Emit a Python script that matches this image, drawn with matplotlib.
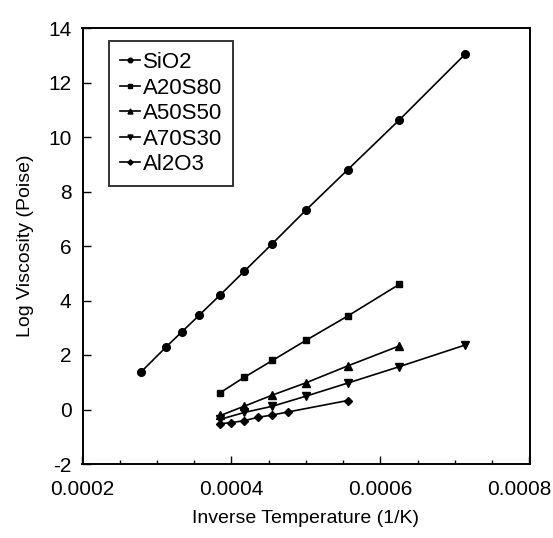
import matplotlib
matplotlib.use("Agg")
import matplotlib.pyplot as plt
import matplotlib.transforms as mtransforms
from matplotlib.ticker import MultipleLocator

plt.rcParams['font.family'] = ['Liberation Sans', 'DejaVu Sans']
plt.rcParams['axes.unicode_minus'] = False

# Data
x_sio2 = [0.000278, 0.000312, 0.000333, 0.000357, 0.000385, 0.000417,
          0.000455, 0.000500, 0.000556, 0.000625, 0.000714]
y_sio2 = [1.36, 2.29, 2.84, 3.47, 4.21, 5.07, 6.09, 7.32, 8.80, 10.62, 13.05]

x_a20s80 = [0.000385, 0.000417, 0.000455, 0.000500, 0.000556, 0.000625]
y_a20s80 = [0.62, 1.18, 1.80, 2.54, 3.43, 4.59]

x_a50s50 = [0.000385, 0.000417, 0.000455, 0.000500, 0.000556, 0.000625]
y_a50s50 = [-0.22, 0.12, 0.53, 0.98, 1.60, 2.33]

x_a70s30 = [0.000385, 0.000417, 0.000455, 0.000500, 0.000556, 0.000625, 0.000714]
y_a70s30 = [-0.36, -0.11, 0.12, 0.49, 0.97, 1.57, 2.37]

x_al2o3 = [0.000385, 0.000400, 0.000417, 0.000435, 0.000455, 0.000476, 0.000556]
y_al2o3 = [-0.52, -0.48, -0.41, -0.29, -0.20, -0.09, 0.33]

labels = ["SiO2", "A20S80", "A50S50", "A70S30", "Al2O3"]
xticks = [0.0002, 0.0004, 0.0006, 0.0008]
xtick_labels = ["0.0002", "0.0004", "0.0006", "0.0008"]
yticks = [-2, 0, 2, 4, 6, 8, 10, 12, 14]

fig = plt.figure(figsize=(5.53, 5.38), dpi=100)
ax = fig.add_axes([82.5 / 553, 1 - 464 / 538, (529.5 - 82.5) / 553, (464 - 28) / 538])

lw = 1.2
ax.plot(x_sio2, y_sio2, '-o', color='black', lw=lw, ms=5.5, label=labels[0])
ax.plot(x_a20s80, y_a20s80, '-s', color='black', lw=lw, ms=5, label=labels[1])
ax.plot(x_a50s50, y_a50s50, '-^', color='black', lw=lw, ms=6, label=labels[2])
ax.plot(x_a70s30, y_a70s30, '-v', color='black', lw=lw, ms=6, label=labels[3])
ax.plot(x_al2o3, y_al2o3, '-D', color='black', lw=lw, ms=4.5, label=labels[4])

ax.set_xlim(0.0002, 0.0008)
ax.set_ylim(-2, 14)
ax.set_xticks(xticks)
ax.set_xticklabels(xtick_labels)
ax.set_yticks(yticks)
ax.xaxis.set_minor_locator(MultipleLocator(0.00005))

ax.tick_params(axis='both', which='major', direction='in', length=6, width=1,
               labelsize=15, top=False, right=False)
ax.tick_params(axis='x', which='major', pad=11.5)
ax.tick_params(axis='y', which='major', pad=8)
ax.tick_params(axis='x', which='minor', direction='in', length=3, width=1, top=False)

# keep the last x tick label inside the figure (as in the reference)
last = ax.get_xticklabels()[-1]
last.set_transform(last.get_transform() +
                   mtransforms.ScaledTranslation(-10 / 100, 0, fig.dpi_scale_trans))

for sp in ax.spines.values():
    sp.set_linewidth(1.4)

ax.set_xlabel("Inverse Temperature (1/K)", fontsize=14, labelpad=8)
ax.set_ylabel("Log Viscosity (Poise)", fontsize=14, labelpad=10)

leg = ax.legend(loc='upper left', bbox_to_anchor=(0.06, 0.97), fontsize=16,
                frameon=True, fancybox=False, edgecolor='black',
                handlelength=0.9, handletextpad=0.1, labelspacing=0.2,
                borderpad=0.5, markerscale=0.6, borderaxespad=0)
leg.get_frame().set_linewidth(1.4)

fig.savefig("out.png", dpi=100, facecolor='white')
